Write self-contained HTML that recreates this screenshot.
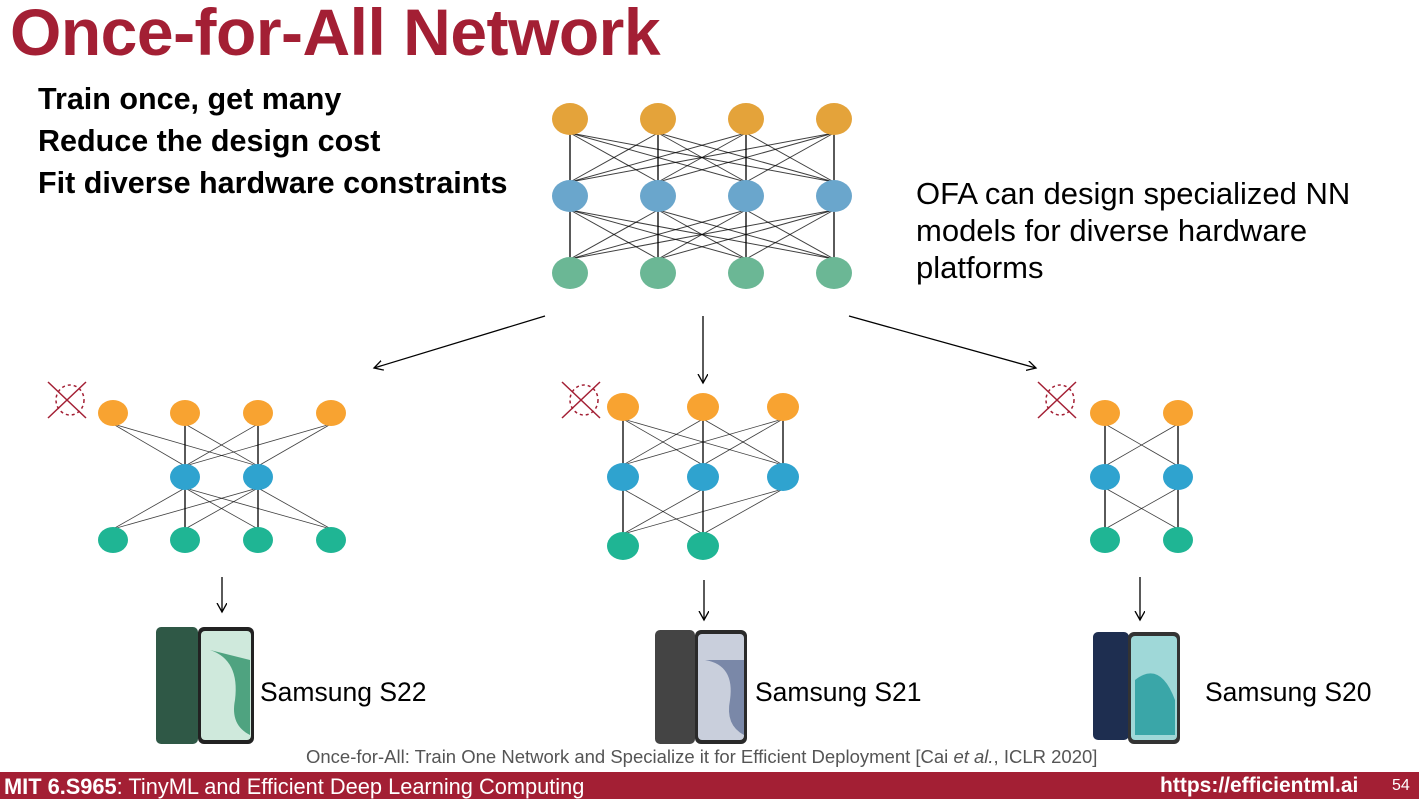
<!DOCTYPE html>
<html><head><meta charset="utf-8"><style>
body{margin:0;width:1419px;height:799px;overflow:hidden;background:#fff;font-family:"Liberation Sans",Arial,sans-serif;position:relative}
.t{position:absolute;white-space:nowrap}
</style></head><body>
<div class="t" style="left:10px;top:-6px;font-size:66px;font-weight:bold;color:#A31F34;letter-spacing:-0.5px">Once-for-All Network</div>
<div class="t" style="left:38px;top:78px;font-size:30.5px;font-weight:bold;line-height:42px;color:#000">Train once, get many<br>Reduce the design cost<br>Fit diverse hardware constraints</div>
<div class="t" style="left:916px;top:175px;font-size:31px;line-height:37px;color:#000">OFA can design specialized NN<br>models for diverse hardware<br>platforms</div>
<svg width="1419" height="799" style="position:absolute;left:0;top:0">
<defs><marker id="a" markerWidth="12" markerHeight="12" refX="9" refY="5" orient="auto" markerUnits="userSpaceOnUse"><path d="M0,0 L9,5 L0,10" fill="none" stroke="#000" stroke-width="1.3"/></marker></defs>
<g id="all"></g>
<g stroke="#000" stroke-width="1.3" fill="none" marker-end="url(#a)">
<line x1="545" y1="316" x2="374" y2="368"/>
<line x1="703" y1="316" x2="703" y2="383"/>
<line x1="849" y1="316" x2="1036" y2="368"/>
<line x1="222" y1="577" x2="222" y2="612"/>
<line x1="704" y1="580" x2="704" y2="620"/>
<line x1="1140" y1="577" x2="1140" y2="620"/>
</g>
<g stroke="#A31F34" stroke-width="1.5" fill="none">
<path d="M48,382 L86,418 M86,382 L48,418"/><ellipse cx="70" cy="400" rx="14" ry="15" stroke-dasharray="3,3"/>
<path d="M562,382 L600,418 M600,382 L562,418"/><ellipse cx="584" cy="400" rx="14" ry="15" stroke-dasharray="3,3"/>
<path d="M1038,382 L1076,418 M1076,382 L1038,418"/><ellipse cx="1060" cy="400" rx="14" ry="15" stroke-dasharray="3,3"/>
</g>
<rect x="156" y="627" width="42" height="117" rx="5" fill="#2f5846"/>
<rect x="198" y="627" width="56" height="117" rx="6" fill="#222"/><rect x="201" y="631" width="50" height="109" rx="4" fill="#cfe9dc"/>
<path d="M210,650 Q240,660 235,700 Q230,725 250,735 L250,660Z" fill="#4fa380"/>
<rect x="655" y="630" width="40" height="114" rx="5" fill="#444"/>
<rect x="695" y="630" width="52" height="114" rx="6" fill="#2a2a2a"/><rect x="698" y="634" width="46" height="106" rx="4" fill="#c9cfdc"/>
<path d="M705,660 Q735,665 730,700 Q725,725 744,735 L744,660Z" fill="#7a88a8"/>
<rect x="1093" y="632" width="36" height="108" rx="5" fill="#1e2e50"/>
<rect x="1128" y="632" width="52" height="112" rx="6" fill="#333"/><rect x="1131" y="636" width="46" height="104" rx="4" fill="#9fd8d8"/>
<path d="M1135,680 Q1160,660 1175,700 L1175,735 L1135,735Z" fill="#3aa6a8"/>
</svg>
<div class="t" style="left:260px;top:677px;font-size:26.5px">Samsung S22</div>
<div class="t" style="left:755px;top:677px;font-size:26.5px">Samsung S21</div>
<div class="t" style="left:1205px;top:677px;font-size:26.5px">Samsung S20</div>
<div class="t" style="left:306px;top:746px;font-size:18.5px;color:#555">Once-for-All: Train One Network and Specialize it for Efficient Deployment [Cai <i>et al.</i>, ICLR 2020]</div>
<div style="position:absolute;left:0;top:772px;width:1419px;height:27px;background:#A31F34"></div>
<div class="t" style="left:4px;top:774px;font-size:21.8px;color:#fff"><b>MIT 6.S965</b>: TinyML and Efficient Deep Learning Computing</div>
<div class="t" style="left:1160px;top:774px;font-size:21px;color:#fff;font-weight:bold">https://efficientml.ai</div>
<div class="t" style="left:1392px;top:777px;font-size:16px;color:#fff">54</div>
<script>
const NS="http://www.w3.org/2000/svg",g=document.getElementById("all");
function el(t,a){const e=document.createElementNS(NS,t);for(const k in a)e.setAttribute(k,a[k]);g.appendChild(e);}
function net(layers,ys,cols,rx,ry,sw){
 for(let l=0;l<layers.length-1;l++)for(const a of layers[l])for(const b of layers[l+1])
  el("line",{x1:a,y1:ys[l]+ry-2,x2:b,y2:ys[l+1]-ry+2,stroke:"#000","stroke-width":a==b?1.3:sw,opacity:a==b?1:.75});
 layers.forEach((L,l)=>L.forEach(x=>el("ellipse",{cx:x,cy:ys[l],rx:rx,ry:ry,fill:cols[l]})));
}
const X=[570,658,746,834];
net([X,X,X],[119,196,273],["#E4A33A","#6AA6CC","#6BB795"],18,16,1);
net([[113,185,258,331],[185,258],[113,185,258,331]],[413,477,540],["#F8A331","#2FA3CF","#1FB594"],15,13,.8);
net([[623,703,783],[623,703,783],[623,703]],[407,477,546],["#F8A331","#2FA3CF","#1FB594"],16,14,.8);
net([[1105,1178],[1105,1178],[1105,1178]],[413,477,540],["#F8A331","#2FA3CF","#1FB594"],15,13,.8);
</script>
</body></html>
